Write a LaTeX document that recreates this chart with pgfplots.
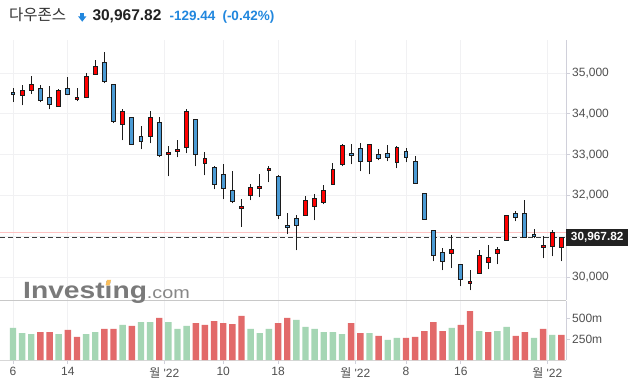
\documentclass[border=0pt]{standalone}
\usepackage{fontspec}
\setmainfont{Liberation Sans}
\newfontfamily\lib{Liberation Sans}
\newfontfamily\wmfont{Liberation Sans}[FakeStretch=1.2]
\newfontfamily\kr{Noto Sans CJK KR}
\usepackage{pgfplots}
\usepackage{pgfplotstable}
\pgfplotsset{compat=1.18}

\definecolor{candred}{RGB}{255,0,0}
\definecolor{candblue}{RGB}{75,155,213}
\definecolor{candline}{RGB}{28,28,28}
\definecolor{volgreen}{RGB}{165,214,180}
\definecolor{volred}{RGB}{226,106,106}
\definecolor{gridgray}{RGB}{241,241,243}
\definecolor{axisgray}{RGB}{208,208,218}
\definecolor{sepgray}{RGB}{200,200,200}
\definecolor{basegray}{RGB}{215,215,215}
\definecolor{pinkline}{RGB}{255,195,195}
\definecolor{dashgray}{RGB}{60,60,60}
\definecolor{ticktext}{RGB}{80,80,80}
\definecolor{headblue}{RGB}{33,135,222}
\definecolor{headgray}{RGB}{50,50,50}
\definecolor{valblack}{RGB}{34,34,34}
\definecolor{boxblack}{RGB}{34,34,34}
\definecolor{wmgray}{RGB}{122,122,122}
\definecolor{wmgray2}{RGB}{135,135,135}
\definecolor{wmorange}{RGB}{250,190,90}

\pgfplotstableread{
i o h l c u
0 34534 34632 34289 34478 0
1 34453 34699 34208 34576 1
2 34576 34919 34485 34723 1
3 34625 34699 34282 34331 0
4 34404 34674 34110 34233 0
5 34174 34600 34167 34576 1
6 34625 34895 34453 34478 0
7 34355 34625 34306 34404 1
8 34404 34993 34387 34919 1
9 34968 35311 34958 35164 1
10 35262 35507 34748 34797 0
11 34723 34740 33770 33816 0
12 33743 34110 33350 34061 1
13 33914 33930 33240 33252 0
14 33449 33694 33130 33326 0
15 33449 34061 33277 33914 1
16 33792 33914 32934 32983 0
17 33007 33218 32468 33056 1
18 33081 33358 32934 33137 1
19 33179 34110 33032 34061 1
20 33865 33880 32713 33007 0
21 32787 33056 32493 32909 1
22 32689 32721 32150 32272 0
23 32517 32762 31905 32174 0
24 32125 32591 31806 31846 0
25 31684 31905 31233 31733 1
26 32002 32272 31880 32199 1
27 32174 32517 31953 32223 1
28 32615 32713 32321 32664 1
29 32468 32490 31414 31512 0
30 31267 31561 31047 31218 0
31 31439 31512 30654 31267 0
32 31512 31978 31500 31880 1
33 31733 32027 31390 31929 1
34 31831 32248 31782 32125 1
35 32272 32787 32260 32640 1
36 32762 33252 32713 33228 1
37 33032 33252 32762 32983 0
38 33154 33277 32591 32838 0
39 32836 33260 32517 33252 1
40 33007 33130 32860 32909 0
41 33032 33228 32836 32934 0
42 32811 33203 32664 33179 1
43 33081 33154 32811 32934 0
44 32836 32958 32280 32297 0
45 32051 32060 31400 31414 0
46 31145 31160 30385 30532 0
47 30605 30703 30164 30385 0
48 30581 31022 30213 30679 1
49 30311 30320 29772 29944 0
50 29846 30164 29674 29895 1
51 30091 30654 30080 30532 1
52 30360 30777 30189 30483 1
53 30581 30728 30311 30679 1
54 30900 31520 30890 31512 1
55 31561 31610 31365 31463 0
56 31561 31880 30973 30973 0
57 31047 31169 30949 30998 0
58 30728 30998 30458 30777 1
59 30753 31145 30507 31096 1
60 30728 30980 30385 30968 1
}\candles

\begin{document}
\begin{tikzpicture}[x=1pt,y=1pt]
\path[use as bounding box, fill=white] (0,0) rectangle (628,385);

% ---------- price pane ----------
\begin{axis}[
 at={(0pt,85pt)}, anchor=south west,
 scale only axis, width=566pt, height=260pt,
 xmin=-1.422, xmax=60.503, ymin=29436, ymax=35809,
 scaled y ticks=false,
 axis x line*=bottom, axis y line*=right,
 axis line style={-},
 x axis line style={draw=sepgray, line width=0.9pt},
 y axis line style={draw=axisgray, line width=0.8pt},
 xtick={0,6,16.55,23,29,37.45,43,49,58.46},
 xticklabels={},
 xtick style={draw=none},
 ytick={30000,31000,32000,33000,34000,35000},
 yticklabels={{30,000},{},{32,000},{33,000},{34,000},{35,000}},
 ytick style={draw=axisgray, line width=0.8pt},
 major tick length=4pt, tick align=outside,
 yticklabel style={font=\lib\fontsize{12}{12}\selectfont, text=ticktext, anchor=west, inner sep=0pt, xshift=2pt},
 grid=major, grid style={draw=gridgray, line width=0.8pt},
 clip mode=individual,
]
\addplot[pinkline, line width=1.3pt] coordinates {(-2,31097.26) (62,31097.26)};
\addplot[dashgray, line width=0.8pt, dash pattern=on 5pt off 3pt] coordinates {(-1.422,30967.82) (60.503,30967.82)};
\pgfplotsforeachungrouped \k in {0,...,60}{%
 \pgfplotstablegetelem{\k}{o}\of\candles \let\vo\pgfplotsretval
 \pgfplotstablegetelem{\k}{h}\of\candles \let\vh\pgfplotsretval
 \pgfplotstablegetelem{\k}{l}\of\candles \let\vl\pgfplotsretval
 \pgfplotstablegetelem{\k}{c}\of\candles \let\vc\pgfplotsretval
 \pgfplotstablegetelem{\k}{u}\of\candles \let\vu\pgfplotsretval
 \pgfmathsetmacro\xa{\k-0.21}%
 \pgfmathsetmacro\xb{\k+0.21}%
 \ifnum\vu=1 \def\bodycol{candred}\else\def\bodycol{candblue}\fi
 \edef\candtmp{%
  \noexpand\addplot[candline, line width=0.9pt, no marks] coordinates {(\k,\vl) (\k,\vh)};
  \noexpand\addplot[draw=candline, fill=\bodycol, line width=0.9pt, no marks] coordinates {(\xa,\vo) (\xb,\vo) (\xb,\vc) (\xa,\vc)} -- cycle;
 }%
 \candtmp
}
\node[fill=boxblack, text=white, inner sep=0pt, minimum width=62pt, minimum height=16.7pt, anchor=west, font=\lib\bfseries\fontsize{11.8}{12}\selectfont] at (axis cs:60.503,30967.82) {30,967.82};
\end{axis}

% ---------- volume pane ----------
\begin{axis}[
 at={(0pt,25pt)}, anchor=south west,
 scale only axis, width=566pt, height=59pt,
 xmin=-1.422, xmax=60.503, ymin=0, ymax=702,
 axis x line*=bottom, axis y line*=right, axis line style={-},
 x axis line style={draw=basegray, line width=0.8pt},
 y axis line style={draw=axisgray, line width=0.8pt},
 xtick={0,6,16.55,23,29,37.45,43,49,58.46},
 xticklabels={6,14,{{\kr 월} '22},10,18,{{\kr 월} '22},8,16,{{\kr 월} '22}},
 ytick={250,500}, yticklabels={250m,500m},
 major tick length=4pt, tick align=outside,
 tick style={draw=axisgray, line width=0.8pt},
 ticklabel style={font=\lib\fontsize{12}{12}\selectfont, text=ticktext},
 yticklabel style={anchor=west, inner sep=0pt, xshift=2pt},
 xticklabel style={anchor=north, inner sep=0pt, yshift=-3pt},
 xmajorgrids, ymajorgrids=false, grid style={draw=gridgray, line width=0.8pt},
 ybar, bar width=6.4pt, bar shift=0pt,
]
\addplot[fill=volgreen, draw=none] coordinates {
(0,381)(1,321)(2,309)(5,309)(8,309)(9,333)(12,417)(14,452)(15,452)(17,452)(18,369)(19,405)
(26,369)(27,321)(28,369)(31,476)(32,393)(33,369)(34,333)(35,333)(36,309)(39,321)(41,238)(42,262)
(48,381)(51,345)(53,345)(54,393)(57,262)(59,298)};
\addplot[fill=volred, draw=none] coordinates {
(3,333)(4,333)(6,357)(7,274)(10,369)(11,369)(13,405)(16,500)(20,440)(21,417)(22,464)(23,440)(24,428)(25,524)
(29,440)(30,500)(37,440)(38,321)(40,286)(43,262)(44,274)(45,345)(46,452)(47,345)(49,417)(50,583)
(52,333)(55,286)(56,333)(58,369)(60,298)};
\end{axis}

% ---------- watermark ----------
\node[anchor=base west, inner sep=0pt, text=wmgray] at (23,86.7) {\wmfont\bfseries\fontsize{23.5}{24}\selectfont Investing\mdseries\fontsize{16.5}{17}\selectfont\color{wmgray2}.com};
\fill[wmorange] (105.5,99.5) -- (109.5,99.5) -- (111,105) -- (107,105) -- cycle;

% ---------- header ----------
\node[anchor=base west, inner sep=0pt, text=headgray] at (9,364.5) {\kr\fontsize{15.5}{15.5}\selectfont 다우존스};
\fill[headblue] (80.4,372.3) rectangle (84.1,368);
\fill[headblue] (78.2,368.5) -- (86.3,368.5) -- (82.25,363.3) -- cycle;
\node[anchor=base west, inner sep=0pt, text=valblack] at (92.3,364.3) {\lib\bfseries\fontsize{15.5}{15.5}\selectfont 30,967.82};
\node[anchor=base west, inner sep=0pt, text=headblue] at (169.5,364.3) {\lib\bfseries\fontsize{13.5}{13.5}\selectfont -129.44};
\node[anchor=base west, inner sep=0pt, text=headblue] at (222.3,364.3) {\lib\bfseries\fontsize{13.5}{13.5}\selectfont (-0.42\%)};
\end{tikzpicture}
\end{document}
